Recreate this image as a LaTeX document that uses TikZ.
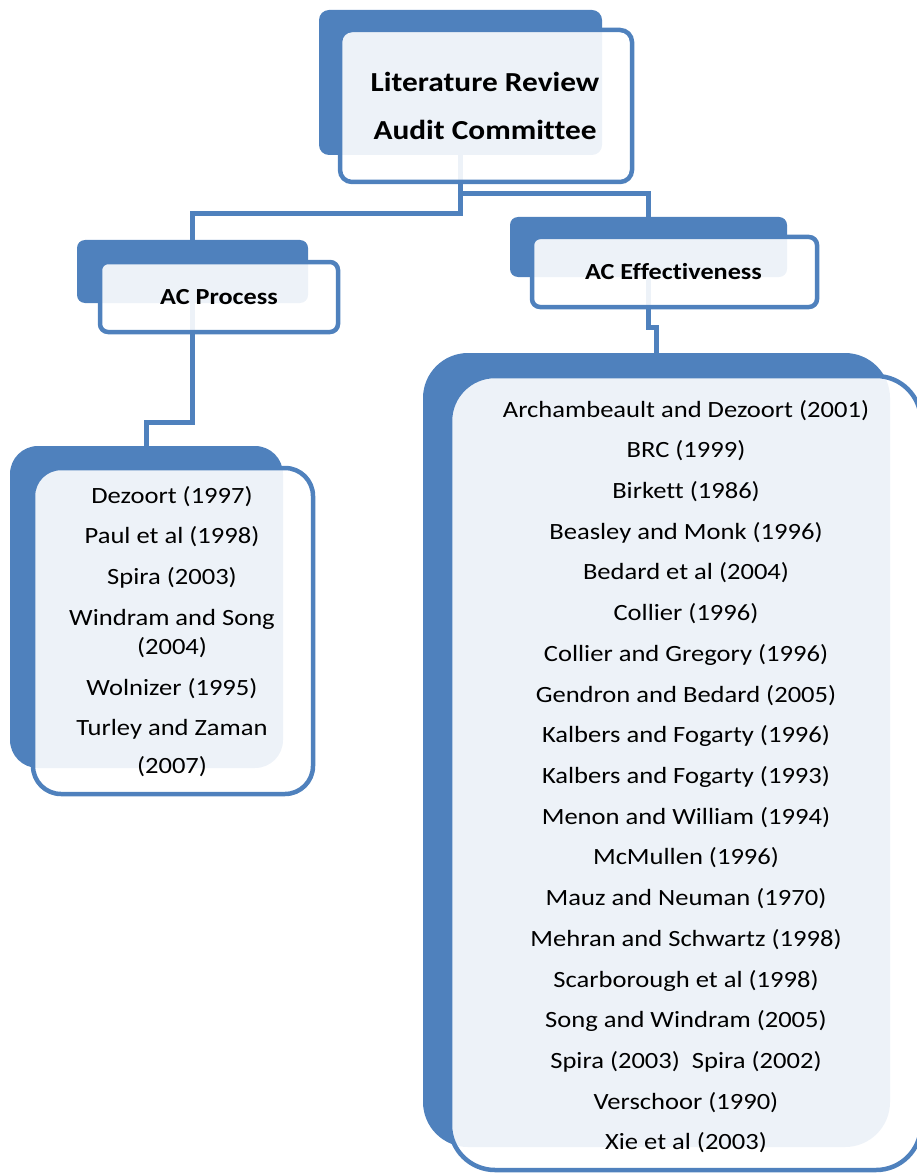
\documentclass[tikz,border=0pt]{standalone}
\usepackage{fontspec}
\setmainfont{Carlito}[FakeStretch=1.14,Ligatures=NoCommon]
\definecolor{acblue}{HTML}{4F81BD}

\begin{document}
\begin{tikzpicture}[x=1pt,y=-1pt,
  back/.style={fill=acblue,inner sep=0pt,rounded corners=#1},
  front/.style={draw=acblue,line width=4.5pt,fill=white,fill opacity=.9,inner sep=0pt,rounded corners=#1},
  link/.style={draw=acblue,line width=5pt},
  head/.style={font=\bfseries\fontsize{23}{28}\selectfont,anchor=base,inner sep=0pt},
  refline/.style={font=\fontsize{23.3}{29}\selectfont,anchor=base,inner sep=0pt}]
      \useasboundingbox (0,0) rectangle (917,1174);
      \node[back=10pt,minimum width=283pt,minimum height=145pt] (topback) at (460.5,82.5) {};
      \node[back=8pt,minimum width=231pt,minimum height=63pt] (procback) at (192.5,271.5) {};
      \node[back=8pt,minimum width=277pt,minimum height=60pt] (effback) at (648.5,247) {};
      \node[back=28pt,minimum width=273pt,minimum height=322pt] (plistback) at (146.5,607) {};
      \node[back=45pt,minimum width=467pt,minimum height=794pt] (elistback) at (656.5,750) {};
      \draw[link] (topback.south) -- ++(0,58) -| (procback.north);
      \draw[link] (topback.south) -- ++(0,38) -| (effback.north);
      \draw[link] (procback.south) -- ++(0,119) -| (plistback.north);
      \draw[link] (effback.south) -- ++(0,50) -| (elistback.north);
      \node[front=12pt,minimum width=292pt,minimum height=152pt] (topbox) at (486,106) {};
      \node[front=8pt,minimum width=238pt,minimum height=70pt] (procbox) at (219,297) {};
      \node[front=8pt,minimum width=285pt,minimum height=70pt] (effbox) at (674.5,272) {};
      \node[front=28pt,minimum width=280pt,minimum height=326pt] (plistbox) at (173,631) {};
      \node[front=45pt,minimum width=471pt,minimum height=794pt] (elistbox) at (685.5,773) {};
      \node[head,font=\bfseries\fontsize{27.5}{33}\selectfont] (title1) at (485,92) {Literature Review};
      \node[head,font=\bfseries\fontsize{27.5}{33}\selectfont] (title2) at (485,140) {Audit Committee};
      \node[head] (proc) at (219,304) {AC Process};
      \node[head] (eff) at (673.5,279) {AC Effectiveness};
      \node[refline] (p1) at (172,503) {Dezoort (1997)};
      \node[refline] (p2) at (172,543.5) {Paul et al (1998)};
      \node[refline] (p3) at (172,584) {Spira (2003)};
      \node[refline] (p4) at (172,625) {Windram and Song};
      \node[refline] (p5) at (172,654) {(2004)};
      \node[refline] (p6) at (172,695) {Wolnizer (1995)};
      \node[refline] (p7) at (172,735) {Turley and Zaman};
      \node[refline] (p8) at (172,773) {(2007)};
      \foreach \name [count=\i from 0] in {Archambeault and Dezoort (2001), BRC (1999), Birkett (1986),
          Beasley and Monk (1996), Bedard et al (2004), Collier (1996), Collier and Gregory (1996),
          Gendron and Bedard (2005), Kalbers and Fogarty (1996), Kalbers and Fogarty (1993),
          Menon and William (1994), McMullen (1996), Mauz and Neuman (1970), Mehran and Schwartz (1998),
          Scarborough et al (1998), Song and Windram (2005), Spira (2003)\ \ Spira (2002),
          Verschoor (1990), Xie et al (2003)}
        \node[refline] (e\i) at (686,{417+40.72*\i}) {\name};
    \end{tikzpicture}
\end{document}
